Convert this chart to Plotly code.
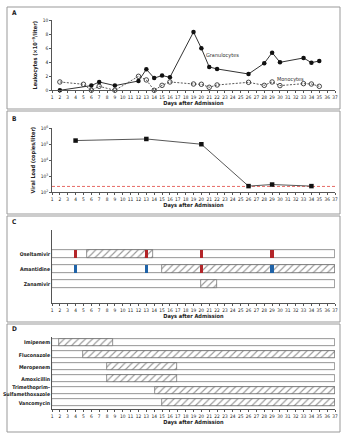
import plotly.graph_objects as go

# ---------------- data ----------------
gran_days = [2, 6, 7, 9, 12, 13, 14, 15, 16, 19, 20, 21, 22, 26, 28, 29, 30, 33, 34, 35]
gran_vals = [0.0, 0.67, 1.19, 0.67, 1.33, 3.0, 1.75, 2.1, 1.86, 8.33, 6.0, 3.33, 3.05, 2.33, 3.86, 5.38, 4.0, 4.62, 3.95, 4.19]
mono_days = [2, 5, 6, 7, 9, 12, 13, 14, 15, 16, 19, 20, 21, 22, 26, 28, 29, 30, 33, 34, 35]
mono_vals = [1.19, 0.86, 0.0, 0.57, 0.0, 2.0, 1.48, 0.0, 0.71, 1.19, 0.9, 0.86, 0.43, 0.76, 1.14, 0.71, 1.19, 0.67, 0.95, 0.9, 0.57]

vl_days = [4, 13, 20, 26, 29, 34]
vl_log10 = [5.23, 5.33, 5.0, 2.37, 2.47, 2.37]
vl_limit_log10 = 2.35

day_ticks = list(range(1, 38))
first_day, last_day = 1, 37

antivirals = ["Oseltamivir", "Amantidine", "Zanamivir"]
antiviral_rows = [3, 2, 1]
antiviral_hatch = [("Oseltamivir", 5.5, 13.8), ("Amantidine", 15.0, 37.0), ("Zanamivir", 20.0, 22.0)]
resist_red = [("Oseltamivir", 4), ("Oseltamivir", 13), ("Oseltamivir", 20), ("Oseltamivir", 29), ("Amantidine", 20)]
resist_blue = [("Amantidine", 4), ("Amantidine", 13), ("Amantidine", 29)]

antibiotics = ["Imipenem", "Fluconazole", "Meropenem", "Amoxicillin", "Trimethoprim–<br>Sulfamethoxazole", "Vancomycin"]
antibiotic_rows = [6, 5, 4, 3, 2, 1]
antibiotic_hatch = [(1.95, 8.8), (4.9, 37.0), (8.0, 16.9), (8.0, 16.9), (14.05, 37.0), (14.95, 37.0)]

# ---------------- figure ----------------
W, H = 348, 440
FONT = "Liberation Sans Narrow, DejaVu Sans Condensed, Arial Narrow, sans-serif"
TXT = "#222"
AX = "#555"

def px(x):
    return x / W

def py(y):
    return 1 - y / H

fig = go.Figure()

# Panel A
fig.add_trace(go.Scatter(x=mono_days, y=mono_vals, mode="lines+markers", xaxis="x", yaxis="y",
                         line=dict(color="#444", width=0.9, dash="2px,1.5px"),
                         marker=dict(symbol="circle-open", size=4.5, color="#333", line=dict(width=0.9)),
                         cliponaxis=False, showlegend=False))
fig.add_trace(go.Scatter(x=gran_days, y=gran_vals, mode="lines+markers", xaxis="x", yaxis="y",
                         line=dict(color="#333", width=1),
                         marker=dict(symbol="circle", size=4.5, color="#111"),
                         cliponaxis=False, showlegend=False))

# Panel B
fig.add_trace(go.Scatter(x=[first_day, last_day], y=[10 ** vl_limit_log10] * 2, mode="lines",
                         xaxis="x2", yaxis="y2", line=dict(color="#e0433c", width=0.8, dash="3px,2px"),
                         showlegend=False))
fig.add_trace(go.Scatter(x=vl_days, y=[10 ** v for v in vl_log10], mode="lines+markers",
                         xaxis="x2", yaxis="y2", line=dict(color="#444", width=0.9),
                         marker=dict(symbol="square", size=4.5, color="#111"),
                         cliponaxis=False, showlegend=False))

# Panel C
bar_line = dict(color="#666", width=0.7)
hatch = dict(shape="/", fgcolor="#333", bgcolor="white", size=5, solidity=0.22)
wC = 0.47
fig.add_trace(go.Bar(orientation="h", y=antiviral_rows, x=[last_day - first_day] * 3, base=[first_day] * 3,
                     width=wC, xaxis="x3", yaxis="y3", marker=dict(color="white", line=bar_line),
                     showlegend=False))
rowmap = dict(zip(antivirals, antiviral_rows))
fig.add_trace(go.Bar(orientation="h", y=[rowmap[n] for n, s, e in antiviral_hatch],
                     x=[e - s for n, s, e in antiviral_hatch], base=[s for n, s, e in antiviral_hatch],
                     width=wC, xaxis="x3", yaxis="y3",
                     marker=dict(color="white", pattern=hatch, line=bar_line), showlegend=False))
mw = 0.42
fig.add_trace(go.Bar(orientation="h", y=[rowmap[n] for n, d in resist_red], x=[mw] * len(resist_red),
                     base=[d - mw / 2 for n, d in resist_red], width=wC, xaxis="x3", yaxis="y3",
                     marker=dict(color="#b3262a", line=dict(width=0)), showlegend=False))
fig.add_trace(go.Bar(orientation="h", y=[rowmap[n] for n, d in resist_blue], x=[mw] * len(resist_blue),
                     base=[d - mw / 2 for n, d in resist_blue], width=wC, xaxis="x3", yaxis="y3",
                     marker=dict(color="#1f63a8", line=dict(width=0)), showlegend=False))

# Panel D
wD = 0.58
fig.add_trace(go.Bar(orientation="h", y=antibiotic_rows, x=[last_day - first_day] * 6, base=[first_day] * 6,
                     width=wD, xaxis="x4", yaxis="y4", marker=dict(color="white", line=bar_line),
                     showlegend=False))
fig.add_trace(go.Bar(orientation="h", y=antibiotic_rows, x=[e - s for s, e in antibiotic_hatch],
                     base=[s for s, e in antibiotic_hatch], width=wD, xaxis="x4", yaxis="y4",
                     marker=dict(color="white", pattern=hatch, line=bar_line), showlegend=False))

xdom = [px(52), px(335)]
tickfont = dict(family=FONT, size=4.8, color=TXT)
titlefont = dict(family=FONT, size=5.6, color=TXT)
rowfont = dict(family=FONT, size=5.2, color=TXT)

def xax(anchor):
    return dict(domain=xdom, range=[first_day, last_day], tickvals=day_ticks, ticks="outside", ticklen=2,
                tickwidth=0.6, tickcolor=AX, showline=True, linecolor=AX, linewidth=0.7, showgrid=False,
                zeroline=False, tickfont=tickfont, tickangle=0, anchor=anchor, automargin=False,
                title=dict(text="<b>Days after Admission</b>", font=titlefont, standoff=2))

def yline(**kw):
    d = dict(showline=True, linecolor=AX, linewidth=0.7, showgrid=False, zeroline=False, automargin=False)
    d.update(kw)
    return d

fig.update_layout(
    width=W, height=H, margin=dict(l=0, r=0, t=0, b=0), paper_bgcolor="white", plot_bgcolor="white",
    barmode="overlay", bargap=0,
    xaxis=xax("y"),
    yaxis=yline(domain=[py(90.3), py(20.3)], range=[0, 10], tickvals=[0, 2, 4, 6, 8, 10], ticks="outside",
                ticklen=2, tickwidth=0.6, tickcolor=AX, tickfont=tickfont, anchor="x",
                title=dict(text="<b>Leukocytes (×10<sup>−9</sup>/liter)</b>", font=titlefont, standoff=4)),
    xaxis2=xax("y2"),
    yaxis2=yline(domain=[py(192), py(128.3)], type="log", range=[2, 6], tickvals=[1e2, 1e3, 1e4, 1e5, 1e6],
                 ticktext=["10<sup>2</sup>", "10<sup>3</sup>", "10<sup>4</sup>", "10<sup>5</sup>", "10<sup>6</sup>"],
                 ticks="outside", ticklen=2, tickwidth=0.6, tickcolor=AX, tickfont=tickfont, anchor="x2",
                 title=dict(text="<b>Viral Load (copies/liter)</b>", font=titlefont, standoff=4)),
    xaxis3=xax("y3"),
    yaxis3=yline(domain=[py(303), py(230)], range=[-0.267, 4.6], tickvals=antiviral_rows,
                 ticktext=["<b>%s</b>" % n for n in antivirals], ticks="", tickfont=rowfont, anchor="x3"),
    xaxis4=xax("y4"),
    yaxis4=yline(domain=[py(409), py(337)], range=[0.5, 6.47], tickvals=antibiotic_rows,
                 ticktext=["<b>%s</b>" % n for n in antibiotics], ticks="", tickfont=rowfont, anchor="x4"),
)

# panel frames
for y0, y1 in [(7, 109), (111, 214), (216, 322), (324, 432)]:
    fig.add_shape(type="rect", xref="paper", yref="paper", x0=px(7), x1=px(340), y0=py(y1), y1=py(y0),
                  line=dict(color="#999", width=1), fillcolor="rgba(0,0,0,0)", layer="below")

# panel letters
for letter, yy in [("A", 13), ("B", 119), ("C", 222), ("D", 329)]:
    fig.add_annotation(xref="paper", yref="paper", x=px(10), y=py(yy), text="<b>%s</b>" % letter,
                       showarrow=False, font=dict(family=FONT, size=6.5, color=TXT), xanchor="left",
                       yanchor="middle")

# series labels
fig.add_annotation(xref="x", yref="y", x=22.7, y=4.95, text="Granulocytes", showarrow=False,
                   font=dict(family=FONT, size=5.5, color="#333"))
fig.add_annotation(xref="x", yref="y", x=31.3, y=1.6, text="Monocytes", showarrow=False,
                   font=dict(family=FONT, size=5.5, color="#333"))

fig.write_html("out.html")
